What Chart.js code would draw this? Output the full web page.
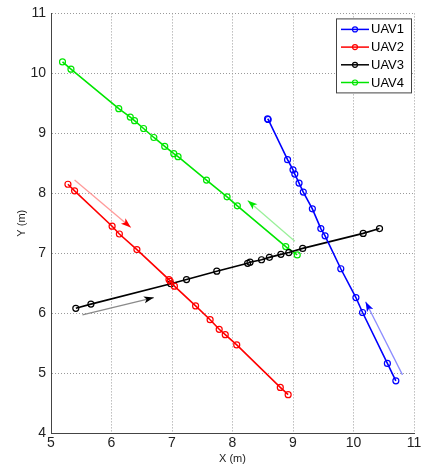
<!DOCTYPE html>
<html><head><meta charset="utf-8">
<script src="https://cdn.jsdelivr.net/npm/chart.js@4/dist/chart.umd.min.js"></script>
<style>html,body{margin:0;padding:0;background:#fff}#wrap{width:425px;height:470px}</style>
</head><body><div id="wrap"><canvas id="c" width="425" height="470"></canvas></div>
<script>
const seriesNames = ['UAV1','UAV2','UAV3','UAV4'];
const xTicks = [5,6,7,8,9,10,11];
const yTicks = [4,5,6,7,8,9,10,11];

const uav1X = [8.58,8.59,8.91,9.00,9.03,9.10,9.17,9.32,9.46,9.53,9.79,10.04,10.15,10.56,10.70];
const uav1Y = [9.24,9.23,8.56,8.39,8.32,8.17,8.02,7.74,7.41,7.29,6.74,6.26,6.01,5.16,4.87];
const uav2X = [5.28,5.39,6.01,6.13,6.42,6.95,6.97,7.04,7.39,7.63,7.78,7.88,8.07,8.79,8.92];
const uav2Y = [8.15,8.04,7.45,7.32,7.06,6.56,6.53,6.45,6.12,5.89,5.73,5.64,5.47,4.76,4.64];
const uav3X = [5.41,5.66,6.98,7.24,7.74,8.25,8.29,8.48,8.61,8.80,8.93,9.16,10.16,10.43];
const uav3Y = [6.08,6.15,6.49,6.56,6.70,6.83,6.85,6.89,6.93,6.98,7.01,7.08,7.33,7.41];
const uav4X = [5.19,5.33,6.12,6.31,6.38,6.53,6.70,6.88,7.03,7.10,7.57,7.91,8.08,8.88,9.07];
const uav4Y = [10.19,10.07,9.41,9.27,9.21,9.08,8.93,8.78,8.66,8.61,8.22,7.94,7.79,7.11,6.97];

// direction arrows (start, end)
const arrow1X = [10.81,10.20]; const arrow1Y = [4.97,6.19];
const arrow2X = [5.39,6.32];   const arrow2Y = [8.22,7.43];
const arrow3X = [5.52,6.70];   const arrow3Y = [5.97,6.26];
const arrow4X = [9.03,8.25];   const arrow4Y = [7.20,7.88];

const colors = ['#0000ff','#ff0000','#000000','#00e600'];
const arrowLineColors = ['#8c8cff','#ff9a9a','#8a8a8a','#9af09a'];

const zip = (xs, ys) => xs.map((x,i)=>({x, y: ys[i]}));
const uavData = [zip(uav1X,uav1Y), zip(uav2X,uav2Y), zip(uav3X,uav3Y), zip(uav4X,uav4Y)];
const arrowData = [zip(arrow1X,arrow1Y), zip(arrow2X,arrow2Y), zip(arrow3X,arrow3Y), zip(arrow4X,arrow4Y)];

const datasets = [];
arrowData.forEach((d,i)=>datasets.push({
  label: 'arrow'+(i+1), data: d, showLine: true, isArrow: true, headColor: colors[i],
  borderColor: arrowLineColors[i], borderWidth: 1.3, pointRadius: 0, pointHoverRadius: 0
}));
uavData.forEach((d,i)=>datasets.push({
  label: seriesNames[i], data: d, showLine: true,
  borderColor: colors[i], backgroundColor: 'rgba(0,0,0,0)', borderWidth: 1.6,
  pointRadius: 3, pointBorderWidth: 1.2, pointStyle: 'circle'
}));

const arrowPlugin = {
  id: 'arrowHeads',
  afterDatasetsDraw(chart) {
    const ctx = chart.ctx;
    chart.data.datasets.forEach((ds, i) => {
      if (!ds.isArrow) return;
      const pts = chart.getDatasetMeta(i).data;
      const a = pts[pts.length-2], b = pts[pts.length-1];
      const ang = Math.atan2(b.y - a.y, b.x - a.x);
      const L = 10, W = 3.5;
      ctx.save();
      ctx.translate(b.x, b.y); ctx.rotate(ang);
      ctx.fillStyle = ds.headColor;
      ctx.beginPath();
      ctx.moveTo(0,0); ctx.lineTo(-L, -W); ctx.lineTo(-L*0.75, 0); ctx.lineTo(-L, W); ctx.closePath();
      ctx.fill();
      ctx.restore();
    });
  }
};

const legendPlugin = {
  id: 'boxLegend',
  afterDraw(chart) {
    const ctx = chart.ctx;
    const ca = chart.chartArea;
    const x0 = ca.right - 78, y0 = ca.top + 5, w = 76, h = 75;
    ctx.save();
    ctx.fillStyle = '#fff';
    ctx.fillRect(x0, y0, w, h);
    ctx.strokeStyle = '#444'; ctx.lineWidth = 1;
    ctx.strokeRect(x0+0.5, y0+0.5, w-1, h-1);
    const items = chart.data.datasets.filter(d => !d.isArrow);
    ctx.font = '13px "Liberation Sans", Arial, sans-serif';
    ctx.textBaseline = 'middle';
    items.forEach((d, k) => {
      const yy = y0 + 11 + k*17.7;
      ctx.strokeStyle = d.borderColor; ctx.lineWidth = 1.5;
      ctx.beginPath(); ctx.moveTo(x0+5, yy); ctx.lineTo(x0+33, yy); ctx.stroke();
      ctx.lineWidth = 1.2;
      ctx.beginPath(); ctx.arc(x0+19, yy, 2.5, 0, Math.PI*2); ctx.stroke();
      ctx.fillStyle = '#000';
      ctx.fillText(d.label, x0+35, yy+0.5);
    });
    ctx.restore();
  }
};

const font = {family: '"Liberation Sans", Arial, sans-serif', size: 14};
new Chart(document.getElementById('c'), {
  type: 'scatter',
  data: { datasets },
  options: {
    responsive: false, animation: false, devicePixelRatio: 1,
    layout: { padding: { top: 8, right: 11, left: 0, bottom: 0 } },
    plugins: { legend: { display: false }, tooltip: { enabled: false } },
    scales: {
      x: {
        type: 'linear', min: 5, max: 11,
        afterBuildTicks: s => { s.ticks = xTicks.map(v => ({value: v})); },
        afterFit: s => { s.height = 37; },
        ticks: { color: '#222', font, padding: 2 },
        grid: { color: '#9a9a9a', lineWidth: 1, drawTicks: false },
        border: { display: true, color: '#444', dash: [1,2] },
        title: { display: true, text: 'X (m)', color: '#222', font: {family: font.family, size: 11}, padding: {top: 0, bottom: 4} }
      },
      y: {
        type: 'linear', min: 4, max: 11,
        afterBuildTicks: s => { s.ticks = yTicks.map(v => ({value: v})); },
        afterFit: s => { s.width = 51; },
        ticks: { color: '#222', font, padding: 5 },
        grid: { color: '#9a9a9a', lineWidth: 1, drawTicks: false },
        border: { display: true, color: '#444', dash: [1,2] },
        title: { display: true, text: 'Y (m)', color: '#222', font: {family: font.family, size: 11}, padding: {top: 15, bottom: 0} }
      }
    }
  },
  plugins: [arrowPlugin, legendPlugin]
});
</script>
</body></html>
